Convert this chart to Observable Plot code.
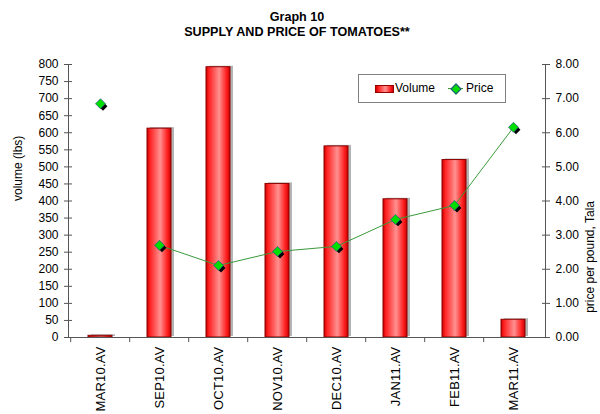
<!DOCTYPE html>
<html><head><meta charset="utf-8">
<script src="https://cdn.jsdelivr.net/npm/d3@7"></script>
<script src="https://cdn.jsdelivr.net/npm/@observablehq/plot@0.6"></script>
<style>
body{margin:0;background:#fff;font-family:"Liberation Sans",Arial,sans-serif;}
#wrap{position:relative;width:600px;height:414px;overflow:hidden;}
#title{height:40px;box-sizing:border-box;padding-top:10px;width:594px;text-align:center;font-weight:bold;font-size:12.6px;line-height:15px;color:#000;}
#legend{position:absolute;left:358px;top:74px;width:148px;height:29px;box-sizing:border-box;border:1px solid #808080;background:#fff;font-size:12px;color:#000;}
#legend .sw{position:absolute;left:16px;top:10px;width:17px;height:6px;border:1px solid #900;background:linear-gradient(to right,#c00 0%,#ff2020 15%,#ff9090 55%,#ff2020 85%,#c00 100%);}
#legend .t1{position:absolute;left:36px;top:6px;}
#legend .ln{position:absolute;left:89px;top:13px;width:15px;height:1px;background:#3a9a3a;}
#legend .dm{position:absolute;left:93px;top:10px;width:6px;height:6px;background:#00dd00;border:0.5px solid #2a4a8a;transform:rotate(45deg);}
#legend .t2{position:absolute;left:107px;top:6px;}
g[aria-label="x-axis tick label"] text{letter-spacing:0.2px;}
</style></head><body>
<div id="wrap">
<div id="title">Graph 10<br>SUPPLY AND PRICE OF TOMATOES**</div>
<div id="chart"></div>
<div id="legend"><div class="sw"></div><div class="t1">Volume</div><div class="ln"></div><div class="dm"></div><div class="t2">Price</div></div>
</div>
<script>
const months = ["MAR10.AV","SEP10.AV","OCT10.AV","NOV10.AV","DEC10.AV","JAN11.AV","FEB11.AV","MAR11.AV"];
const volume = [5, 612, 792, 450, 560, 405, 520, 52];
const price = [6.85, 2.70, 2.11, 2.52, 2.67, 3.46, 3.87, 6.16];
const lineGroup = ["a","b","b","b","b","b","b","b"];
const volumeTicks = [0,50,100,150,200,250,300,350,400,450,500,550,600,650,700,750,800];
const priceTicks = [0,1,2,3,4,5,6,7,8];
const priceToVolume = 100;

const data = months.map((m, i) => ({month: m, volume: volume[i], price: price[i], group: lineGroup[i]}));

const W = 600, H = 374, mL = 68, mR = 55, mT = 24, mB = 77;
const step = (W - mL - mR) / months.length;

const svg = Plot.plot({
  width: W, height: H,
  marginLeft: mL, marginRight: mR, marginTop: mT, marginBottom: mB,
  style: {fontFamily: "Liberation Sans, Arial, sans-serif", fontSize: "12px", color: "#000", background: "#fff", overflow: "visible"},
  x: {domain: months, paddingInner: 0.6, paddingOuter: 0.3, axis: null},
  y: {domain: [0, 800], axis: null},
  marks: [
    Plot.barY(data, {x: "month", y: "volume", fill: "#b4b4b4", dx: 3, dy: -1}),
    Plot.barY(data, {x: "month", y: "volume", fill: "url(#barGrad)", stroke: "#8b0000", strokeWidth: 1}),
    Plot.frame({anchor: "left", stroke: "#555"}),
    Plot.frame({anchor: "right", stroke: "#555"}),
    Plot.frame({anchor: "bottom", stroke: "#555"}),
    Plot.axisY(volumeTicks, {anchor: "left", tickSize: 8, dx: 4, tickPadding: 6, label: null, stroke: "#555", fill: "#000", fontSize: 12}),
    Plot.axisY(priceTicks.map(d => d * priceToVolume), {anchor: "right", tickSize: 8, dx: -4, tickPadding: 6, label: null, tickFormat: d => (d / priceToVolume).toFixed(2), stroke: "#555", fill: "#000", fontSize: 12}),
    Plot.ruleX(months, {x: d => d, y1: 0, y2: -15, dx: -step / 2, stroke: "#555"}),
    Plot.axisX({anchor: "bottom", tickSize: 0, tickRotate: -90, tickPadding: 9, label: null, fill: "#000", fontSize: 13}),
    Plot.text(["volume (lbs)"], {text: d => d, frameAnchor: "left", rotate: -90, dx: -50, fontSize: 12, fill: "#000"}),
    Plot.text(["price per pound, Tala"], {text: d => d, frameAnchor: "right", rotate: -90, dx: 45, fontSize: 12, fill: "#000"}),
    Plot.line(data, {x: "month", y: d => d.price * priceToVolume, z: "group", stroke: "#3a9a3a", strokeWidth: 1}),
    Plot.dot(data, {x: "month", y: d => d.price * priceToVolume, symbol: "diamond2", r: 4, fill: "#000", dx: 2.5, dy: 2.5}),
    Plot.dot(data, {x: "month", y: d => d.price * priceToVolume, symbol: "diamond2", r: 4.5, fill: "#00dd00", stroke: "#2a4a8a", strokeWidth: 0.7})
  ]
});

const defs = d3.select(svg).insert("defs", ":first-child");
const g = defs.append("linearGradient").attr("id", "barGrad").attr("x1", "0").attr("x2", "1").attr("y1", "0").attr("y2", "0");
[["0%", "#c80000"], ["12%", "#ff2020"], ["55%", "#ff9090"], ["85%", "#ff2020"], ["100%", "#c80000"]]
  .forEach(([o, c]) => g.append("stop").attr("offset", o).attr("stop-color", c));

document.getElementById("chart").appendChild(svg);
</script>
</body></html>
